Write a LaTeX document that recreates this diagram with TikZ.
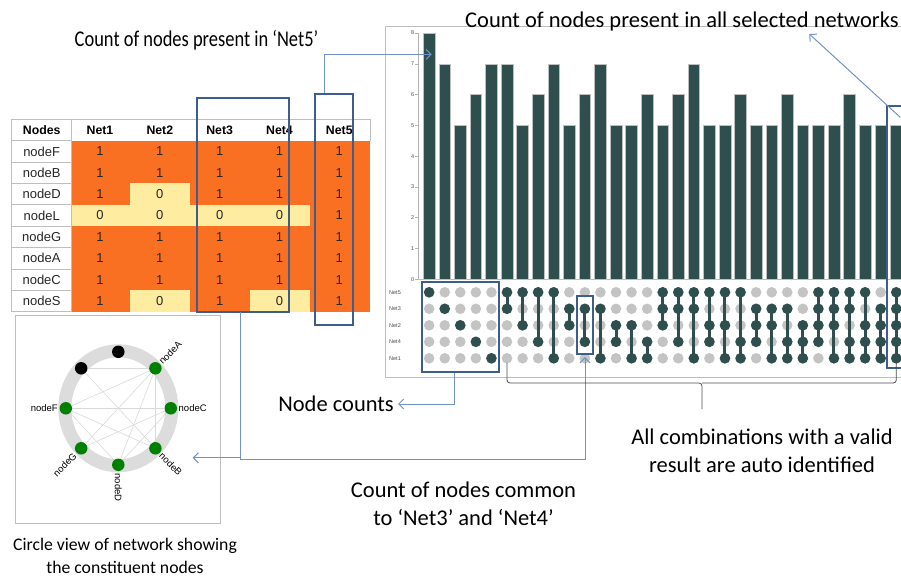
\documentclass[tikz,border=0pt]{standalone}
\usepackage{fontspec}
\usepackage{graphicx}
\setmainfont{Carlito}
\newfontfamily\arialfont{Liberation Sans}
\usetikzlibrary{arrows.meta,calc}
\definecolor{netorange}{RGB}{250,112,34}
\definecolor{netyellow}{RGB}{254,236,160}
\definecolor{slate}{RGB}{47,79,79}
\definecolor{dotgrey}{RGB}{196,196,196}
\definecolor{boxblue}{RGB}{62,92,140}
\definecolor{linkblue}{RGB}{112,146,200}
\definecolor{framegrey}{RGB}{190,190,190}
\definecolor{ringgrey}{RGB}{220,220,220}
\definecolor{netgreen}{RGB}{0,128,0}

\begin{document}
\begin{tikzpicture}[x=1pt, y=-1pt,
    selbox/.style={draw=boxblue, line width=2.2pt, inner sep=0pt},
    conn/.style={draw=linkblue, line width=1pt},
    arrowed/.style={-{Straight Barb[length=5pt,width=10pt]}},
    annot/.style={font=\fontsize{22.5}{28}\selectfont, align=center, inner sep=1pt},
    hdr/.style={font=\arialfont\bfseries\fontsize{12.3}{13}\selectfont},
    tcell/.style={font=\arialfont\fontsize{13}{13}\selectfont, text=black!85},
    tgrid/.style={draw=framegrey, line width=0.8pt},
    bar/.style={fill=slate, draw=gray!50, line width=0.5pt},
    mline/.style={draw=slate, line width=3pt},
    small/.style={font=\arialfont\fontsize{5.5}{6}\selectfont, text=black!70, inner sep=1pt},
    dotnode/.style={circle, minimum size=12.5pt, inner sep=0pt},
    gdot/.style={dotnode, fill=netgreen},
    kdot/.style={dotnode, fill=black},
    nlbl/.style={font=\arialfont\fontsize{9.5}{10}\selectfont, inner sep=0.5pt},
    cedge/.style={draw=gray!30, line width=0.6pt}]
  \useasboundingbox (0,0) rectangle (901,577);
  \clip (0,0) rectangle (901,577);

  % table
  \fill[netorange] (71.7,140.7) rectangle (370,311.7);
  \fill[netyellow] (130,183.5) rectangle (190,204.8);
  \fill[netyellow] (71.7,204.8) rectangle (310,226.2);
  \fill[netyellow] (130,290.3) rectangle (190,311.7);
  \fill[netyellow] (250,290.3) rectangle (310,311.7);
  \draw[tgrid] (11.7,119) rectangle (71.7,311.7);
  \draw[tgrid] (71.7,119) -- (370,119) -- (370,140.7);
  \foreach \i in {0,...,7}
    \draw[tgrid] (11.7,{140.7+\i*21.375}) -- (71.7,{140.7+\i*21.375});
  \node[hdr] (hnodes) at (41.7,130) {Nodes};
  \foreach \c in {1,...,5}
    \node[hdr] (hnet\c) at ({100+(\c-1)*59.83},130) {Net\c};
  \foreach \nm/\vals [count=\r] in {F/{1,1,1,1,1},B/{1,1,1,1,1},D/{1,0,1,1,1},L/{0,0,0,0,1},
                                     G/{1,1,1,1,1},A/{1,1,1,1,1},C/{1,1,1,1,1},S/{1,0,1,0,1}} {
    \node[tcell] (row\nm) at (41.7,{140.7+(\r-0.5)*21.375}) {node\nm};
    \foreach \v [count=\c] in \vals
      \node[tcell] at ({100+(\c-1)*59.83},{140.7+(\r-0.5)*21.375}) {\v};
  }

  % bar chart
  \draw[framegrey, line width=0.8pt] (385,26.7) rectangle (920,377.3);
  \draw[gray!60, line width=0.6pt] (418.3,279.3) -- (418.3,33);
  \draw[framegrey, line width=0.6pt] (418.3,279.3) -- (901,279.3);
  \foreach \v in {0,...,8} {
    \draw[gray!60, line width=0.5pt] (415.3,{279.3-\v*30.79}) -- (418.3,{279.3-\v*30.79});
    \node[small, anchor=east] at (415.3,{279.3-\v*30.79}) {\v};
  }
  \foreach \h [count=\c] in {8,7,5,6,7,7,5,6,7,5,6,7,5,5,6,5,6,7,5,5,6,5,5,6,5,5,5,6,5,5,5}
    \path[bar] ({423.3+(\c-1)*15.57},279.3) rectangle ++(11.7,{-\h*30.79});
  \coordinate (bartip) at (431.7,54.3);

  % combination matrix
  \foreach \nm [count=\r] in {5,3,2,4,1}
    \node[small, anchor=west] (set\nm) at (388,{292.3+(\r-1)*16.5}) {Net\nm};
  \foreach \c in {1,...,31}
    \foreach \r in {1,...,5}
      \fill[dotgrey] ({429.15+(\c-1)*15.57},{292.3+(\r-1)*16.5}) circle (5.3);
  \foreach \c/\m in {1/{1},2/{2},3/{3},4/{4},5/{5},6/{1,2},7/{1,3},8/{1,4},9/{1,5},10/{2,3},
                     11/{2,4},12/{2,5},13/{3,4},14/{3,5},15/{4,5},16/{1,2,3},17/{1,2,4},18/{1,2,5},
                     19/{1,3,4},20/{1,3,5},21/{1,4,5},22/{2,3,4},23/{2,3,5},24/{2,4,5},25/{3,4,5},
                     26/{1,2,3,4},27/{1,2,3,5},28/{1,2,4,5},29/{1,3,4,5},30/{2,3,4,5},31/{1,2,3,4,5}} {
    \foreach \r [remember=\r as \p (initially 0)] in \m {
      \ifnum\p>0
        \draw[mline] ({429.15+(\c-1)*15.57},{292.3+(\p-1)*16.5}) -- ({429.15+(\c-1)*15.57},{292.3+(\r-1)*16.5});
      \fi
      \fill[slate] ({429.15+(\c-1)*15.57},{292.3+(\r-1)*16.5}) circle (5.3);
    }
  }

  % highlight boxes
  \node[selbox, minimum width=91.4pt, minimum height=214pt] (tbox34) at (243,205.3) {};
  \node[selbox, minimum width=37.7pt, minimum height=231pt] (tbox5) at (333.9,209.5) {};
  \node[selbox, minimum width=76.7pt, minimum height=90pt] (cntbox) at (460.6,327.3) {};
  \node[selbox, minimum width=16pt, minimum height=58pt] (combo34) at (585,325) {};
  \node[selbox, minimum width=30pt, minimum height=262.6pt] (allbox) at (902.3,237) {};

  % circle view
  \draw[tgrid] (15,315) rectangle (220.7,523.3);
  \draw[ringgrey, line width=13pt] (118.3,408.3) ellipse [x radius=53.5, y radius=57.5];
  \node[kdot] (k1) at (118.3,351.8) {};
  \node[kdot] (k2) at (81.2,368.3) {};
  \node[gdot] (nA) at (155.4,368.3) {};
  \node[gdot] (nF) at (65.8,408.3) {};
  \node[gdot] (nC) at (170.8,408.3) {};
  \node[gdot] (nG) at (81.2,448.3) {};
  \node[gdot] (nB) at (155.4,448.3) {};
  \node[gdot] (nD) at (118.3,464.8) {};
  \path[cedge]
    (nA) edge (k2)
         edge (nF)
         edge (nG)
         edge (nD)
         edge (nB)
    (nF) edge (nC)
         edge (nB)
         edge (nD)
    (k2) edge (nB)
    (nC) edge (nG)
         edge (nD);
  \node[nlbl, rotate=45, anchor=west] at (160,363) {nodeA};
  \node[nlbl, anchor=west] at (178,408.3) {nodeC};
  \node[nlbl, anchor=east] at (58.5,408.3) {nodeF};
  \node[nlbl, rotate=-45, anchor=west] at (160.5,454) {nodeB};
  \node[nlbl, rotate=-90, anchor=west] at (118.3,473) {nodeD};
  \node[nlbl, rotate=45, anchor=east] at (75.5,454) {nodeG};
  \coordinate (cvtip) at (192.7,457.7);

  % labels
  \node[annot] (lblnet5) at (196.5,40) {\scalebox{0.82}[1]{Count of nodes present in ‘Net5’}};
  \node[annot, anchor=west] (lblall) at (464,22) {Count of nodes present in all selected networks};
  \node[annot, anchor=east] (lblcounts) at (395,404) {Node counts};
  \node[annot] (lblcommon) at (463.5,504) {Count of nodes common\\to ‘Net3’ and ‘Net4’};
  \node[annot] (lblauto) at (762,451) {All combinations with a valid\\result are auto identified};
  \node[annot, font=\fontsize{17.7}{23}\selectfont] (lblcircle) at (125,556)
    {Circle view of network showing\\the constituent nodes};
  \coordinate (alltip) at (809.3,34);

  % connectors
  \coordinate (drop34) at (240.7,312.3);
  \coordinate (turn34) at (585,459.3);
  \draw[conn, arrowed] ([xshift=-9.2pt]tbox5.north) |- (bartip);
  \draw[conn, arrowed] ([xshift=-6.6pt]cntbox.south) |- ([xshift=3pt]lblcounts.east);
  \draw[conn, arrowed] (drop34) |- (turn34) -- ([yshift=-2pt]combo34.south);
  \draw[conn, arrowed] (drop34 |- cvtip) -- (cvtip);
  \draw[conn, arrowed] ($(allbox.north west)+(14,12.7)$) -- (alltip);
  \draw[black!70, line width=0.8pt, rounded corners=3pt] (507,363) |- (702,383) -- (702,409);
  \draw[black!70, line width=0.8pt, rounded corners=3pt] (896.3,363) |- (702,383);
\end{tikzpicture}
\end{document}
